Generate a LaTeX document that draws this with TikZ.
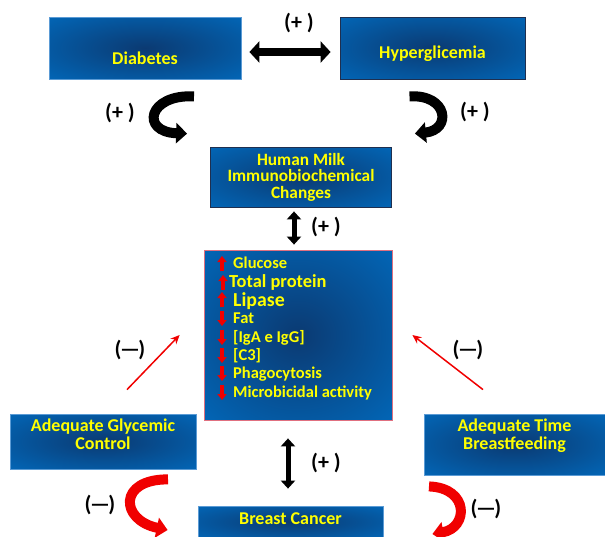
\documentclass[tikz,border=0pt]{standalone}
\usepackage{fontspec}
\setmainfont{Carlito}
\usetikzlibrary{arrows.meta}
\definecolor{boxedge}{HTML}{0070C6}
\definecolor{boxmid}{HTML}{0B3A72}
\definecolor{txtyel}{HTML}{FFFF00}
\definecolor{arrred}{HTML}{F00000}
\definecolor{lightedge}{HTML}{5B9BD5}
\definecolor{darkedge}{HTML}{1F2F4F}
\definecolor{pinkedge}{HTML}{E07080}
\pgfdeclareradialshading{boxshade}{\pgfpoint{0bp}{0bp}}{color(0bp)=(boxmid); color(44bp)=(boxedge); color(50bp)=(boxedge)}
\newcommand{\lowtxt}[2]{\smash{\raisebox{#1}{#2}}}
\begin{document}
\begin{tikzpicture}[x=1pt,y=-1pt,
  box/.style={draw=#1, line width=0.8pt, shading=boxshade, text=txtyel,
    font=\fontsize{18}{17}\selectfont\bfseries, align=center, inner sep=0pt},
  item/.style={anchor=base west, text=txtyel, inner sep=0pt, font=\fontsize{#1}{#1}\selectfont\bfseries},
  sign/.style={font=\fontsize{22}{22}\selectfont\bfseries, inner sep=0pt},
  hdouble/.style={line width=8pt, {Triangle[width=21pt,length=10pt]}-{Triangle[width=21pt,length=10pt]}},
  vdouble/.style={line width=5pt, {Triangle[width=14pt,length=8pt]}-{Triangle[width=14pt,length=8pt]}},
  curvearr/.style={line width=10pt, -{Triangle[width=20pt,length=11pt]}},
  thinred/.style={draw=arrred, line width=1.5pt, -{Stealth[width=8pt,length=9pt]}},
  updown/.style={draw=arrred, line width=3.5pt, -{Triangle[width=9pt,length=6pt]}}]
\useasboundingbox (0,0) rectangle (605,536);

% boxes
\node[box=lightedge, minimum width=192pt, minimum height=62pt] (diab) at (145,48) {\lowtxt{-16pt}{Diabetes}};
\node[box=darkedge, minimum width=185pt, minimum height=62pt] (hyper) at (432.5,48) {\lowtxt{-10pt}{Hyperglicemia}};
\node[box=darkedge, minimum width=181pt, minimum height=60pt, font=\fontsize{17.3}{16.5}\selectfont\bfseries] (milk) at (301,177) {Human Milk\\Immunobiochemical\\Changes};
\node[box=pinkedge, minimum width=188pt, minimum height=170pt] (main) at (298,335) {};
\node[box=lightedge, minimum width=186pt, minimum height=55pt] (agc) at (103,441.5) {\lowtxt{0.5pt}{\begin{tabular}{@{}c@{}}Adequate Glycemic\\Control\end{tabular}}};
\node[box=lightedge, minimum width=181pt, minimum height=61pt] (atb) at (514.5,444.5) {\lowtxt{3.5pt}{\begin{tabular}{@{}c@{}}Adequate Time\\Breastfeeding\end{tabular}}};
\node[box=lightedge, minimum width=185pt, minimum height=32pt] (bc) at (290.5,522) {\lowtxt{-2pt}{Breast Cancer}};

% list inside main box
\node[item=16.5] (i1) at (233,268) {Glucose};
\node[item=18.4] (i2) at (229,287) {Total protein};
\node[item=19.8] (i3) at (233,306.5) {Lipase};
\node[item=16.5] (i4) at (233,323.5) {Fat};
\node[item=16.5] (i5) at (233,342) {[IgA e IgG]};
\node[item=16.5] (i6) at (233,360) {[C3]};
\node[item=16.5] (i7) at (233,378) {Phagocytosis};
\node[item=16.5] (i8) at (233,397) {Microbicidal activity};
\draw[updown] (222,271) -- (222,256);
\draw[updown] (223,290) -- (223,275);
\draw[updown] (222,307) -- (222,292);
\draw[updown] (222,311) -- (222,326);
\draw[updown] (222,330) -- (222,345);
\draw[updown] (222,348) -- (222,363);
\draw[updown] (222,366) -- (222,381);
\draw[updown] (222,385) -- (222,400);

% signs
\node[sign] (s1) at (299,23) {(+ )};
\node[sign] (s2) at (120,113) {(+ )};
\node[sign] (s3) at (475,112) {(+ )};
\node[sign] (s4) at (326,227) {(+ )};
\node[sign] (s5) at (130,350) {(\kern-1.5pt—\kern-1.5pt)};
\node[sign] (s6) at (468,350) {(\kern-1.5pt—\kern-1.5pt)};
\node[sign] (s7) at (326,463) {(+ )};
\node[sign] (s8) at (100,505) {(\kern-1.5pt—\kern-1.5pt)};
\node[sign] (s9) at (486,509) {(\kern-1.5pt—\kern-1.5pt)};

% connectors
\draw[hdouble] ([xshift=8pt,yshift=-4pt]diab.east) -- ([xshift=-9pt,yshift=-4pt]hyper.west);
\draw[vdouble] ([xshift=-7pt,yshift=-4pt]milk.south) -- ([xshift=-4pt,yshift=5pt]main.north);
\draw[vdouble] ([xshift=-10pt,yshift=-18pt]main.south) -- ([xshift=-2.5pt,yshift=17pt]bc.north);

\draw[curvearr] ([xshift=49pt,yshift=-17pt]diab.south) .. controls (148,94) and (140,132) .. ([xshift=-23pt,yshift=13pt]milk.north west);
\draw[curvearr] ([xshift=-23pt,yshift=-17pt]hyper.south) .. controls (448,94) and (452,130) .. ([xshift=23pt,yshift=13pt]milk.north east);

\draw[curvearr, color=arrred] ([xshift=65pt,yshift=-10pt]agc.south) .. controls (118,479) and (120,520) .. ([xshift=-30pt,yshift=-8pt]bc.west);
\draw[curvearr, color=arrred] ([xshift=-85.5pt,yshift=-11pt]atb.south) .. controls (470,488) and (468,528) .. ([xshift=49pt,yshift=-12pt]bc.east);

\draw[thinred] ([xshift=24pt,yshift=24pt]agc.north) -- ([xshift=-24pt]main.west);
\draw[thinred] ([xshift=-31.5pt,yshift=24pt]atb.north) -- ([xshift=20pt]main.east);
\end{tikzpicture}
\end{document}
